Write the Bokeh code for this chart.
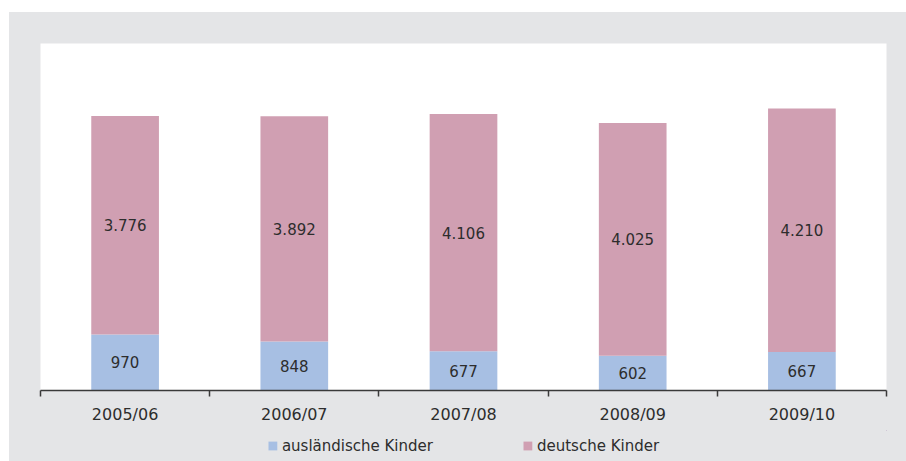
from bokeh.plotting import figure
from bokeh.models import (ColumnDataSource, Range1d, FixedTicker, LabelSet,
                          Legend, LegendItem)
from bokeh.layouts import column
from bokeh.core.properties import value
from bokeh.embed import file_html
from bokeh.resources import INLINE

# ---- data ----
years = ["2005/06", "2006/07", "2007/08", "2008/09", "2009/10"]
auslaendisch = [970, 848, 677, 602, 667]
deutsch = [3776, 3892, 4106, 4025, 4210]
series_names = ["ausländische Kinder", "deutsche Kinder"]

BLUE = "#A7BFE3"
PINK = "#D09FB2"
GRAY = "#E4E5E7"
TEXT = "#2d2d2d"
FONT = "DejaVu Sans"

n = len(years)
xs = [i + 0.5 for i in range(n)]


def de(v):
    return f"{v:,}".replace(",", ".")


src = ColumnDataSource(dict(x=xs, a=auslaendisch, d=deutsch))

p = figure(width=897, height=418, output_backend="svg", toolbar_location=None,
           x_range=Range1d(0, n), y_range=Range1d(0, 6000),
           min_border_left=31, min_border_right=20, min_border_top=31,
           min_border_bottom=40)
p.border_fill_color = GRAY
p.background_fill_color = "white"
p.outline_line_color = None
p.xgrid.visible = False
p.ygrid.visible = False
p.yaxis.visible = False

rs = p.vbar_stack(["a", "d"], x="x", width=0.4, source=src,
                  color=[BLUE, PINK], line_color=None)

# value labels
mid_a = [v / 2 for v in auslaendisch]
mid_d = [a + d / 2 for a, d in zip(auslaendisch, deutsch)]
lab_src = ColumnDataSource(dict(
    x=xs + xs,
    y=mid_a + mid_d,
    t=[de(v) for v in auslaendisch] + [de(v) for v in deutsch],
))
p.add_layout(LabelSet(x="x", y="y", text="t", source=lab_src,
                      text_align="center", text_baseline="middle",
                      text_font=value(FONT), text_font_size="15px",
                      text_color=TEXT))

# x axis: labels at centres, tick marks at boundaries
ax = p.xaxis[0]
ax.ticker = FixedTicker(ticks=xs, minor_ticks=list(range(n + 1)))
ax.major_label_overrides = {x: y for x, y in zip(xs, years)}
ax.major_tick_line_color = None
ax.major_tick_in = 0
ax.major_tick_out = 6
ax.minor_tick_in = 0
ax.minor_tick_out = 6
ax.minor_tick_line_color = "#3a3a3a"
ax.minor_tick_line_width = 1.5
ax.axis_line_color = "#3a3a3a"
ax.axis_line_width = 1.5
ax.major_label_standoff = 8
ax.major_label_text_font = FONT
ax.major_label_text_font_size = "16px"
ax.major_label_text_color = TEXT

# legend strip as a second small figure (its bars lie far outside its view)
lg = figure(width=897, height=31, output_backend="svg", toolbar_location=None,
            x_range=Range1d(-20, -19), y_range=Range1d(-20000, -19999),
            min_border_left=31, min_border_right=20, min_border_top=0,
            min_border_bottom=0)
lg.border_fill_color = GRAY
lg.background_fill_alpha = 0
lg.outline_line_color = None
lg.axis.visible = False
lg.grid.visible = False
lrs = lg.vbar_stack(["a", "d"], x="x", width=0.4, source=src,
                    color=[BLUE, PINK], line_color=None)

legend = Legend(items=[LegendItem(label=series_names[0], renderers=[lrs[0]]),
                       LegendItem(label=series_names[1], renderers=[lrs[1]])],
                orientation="horizontal", location="center",
                background_fill_alpha=0, border_line_color=None,
                glyph_width=11, glyph_height=11, label_standoff=4,
                spacing=89, padding=0, margin=0,
                label_text_font=FONT, label_text_font_size="15px",
                label_text_color=TEXT)
lg.add_layout(legend, "center")

layout = column(p, lg, spacing=0)
layout.styles = {"margin-left": "9px", "margin-top": "12px",
                 "background-color": GRAY}
open("out.html", "w").write(file_html(layout, INLINE))
